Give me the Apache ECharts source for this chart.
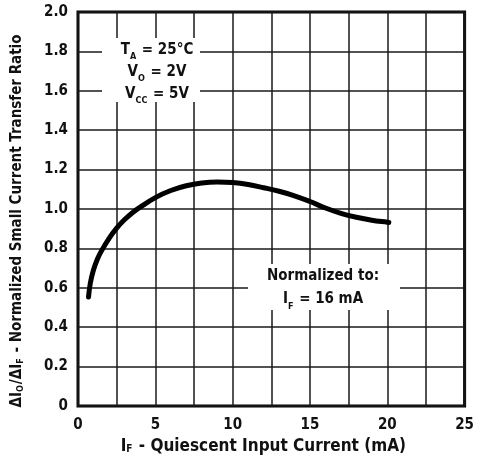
<!DOCTYPE html>
<html>
<head>
<meta charset="utf-8">
<script src="https://cdn.jsdelivr.net/npm/echarts@6/dist/echarts.min.js"></script>
<style>
    html, body { margin: 0; padding: 0; background: #fff; }
    #chart { width: 477px; height: 464px; }
</style>
</head>
<body>
<div id="chart"></div>
<script>
// curve
const currentMA = [0.68, 0.8, 1.0, 1.25, 1.5, 2.0, 2.5, 3.0, 3.5, 4.0, 5, 6, 7, 8, 9, 10, 11, 12, 13, 14, 15, 16, 17, 18, 19, 20, 20.1];
const ratio = [0.553, 0.625, 0.69, 0.745, 0.785, 0.85, 0.903, 0.945, 0.98, 1.008, 1.058, 1.094, 1.118, 1.132, 1.137, 1.134, 1.124, 1.108, 1.09, 1.067, 1.038, 1.005, 0.978, 0.958, 0.943, 0.933, 0.932];
const xTicks = [0, 5, 10, 15, 20, 25];
const yTicks = [0, 0.2, 0.4, 0.6, 0.8, 1.0, 1.2, 1.4, 1.6, 1.8, 2.0];

const FONT = "'Liberation Sans Narrow', 'DejaVu Sans Condensed', sans-serif";
const gridLine = { color: '#1a1a1a', width: 1.5 };

let mychart = echarts.init(document.getElementById('chart'));

let option = {
    animation: false,
    grid: {
        left: 78, right: 7, top: 12, bottom: 58,
        show: true,
        borderColor: '#000',
        borderWidth: 3
    },
    xAxis: {
        type: 'value',
        min: xTicks[0],
        max: xTicks[xTicks.length - 1],
        interval: 5,
        axisLine: { show: false },
        axisTick: { show: false },
        splitLine: { show: true, lineStyle: gridLine },
        minorTick: { show: false, splitNumber: 2 },
        minorSplitLine: { show: true, lineStyle: gridLine },
        axisLabel: {
            margin: 12,
            fontFamily: FONT, fontWeight: 'bold', fontSize: 15, color: '#111'
        },
        name: '{b|I}{s|F}{b| - Quiescent Input Current (mA)}',
        nameLocation: 'middle',
        nameGap: 30,
        nameTextStyle: {
            padding: [0, 16, 0, 0],
            rich: {
                b: { fontFamily: FONT, fontWeight: 'bold', fontSize: 17, color: '#111' },
                s: { fontFamily: FONT, fontWeight: 'bold', fontSize: 10, color: '#111', verticalAlign: 'bottom', padding: [6, 1, 0, 0] }
            }
        }
    },
    yAxis: {
        type: 'value',
        min: yTicks[0],
        max: yTicks[yTicks.length - 1],
        interval: 0.2,
        axisLine: { show: false },
        axisTick: { show: false },
        splitLine: { show: true, lineStyle: gridLine },
        axisLabel: {
            margin: 10,
            fontFamily: FONT, fontWeight: 'bold', fontSize: 15, color: '#111',
            formatter: v => v === 0 ? '0' : v.toFixed(1)
        },
        name: '{b|ΔI}{s|O}{b|/ΔI}{s|F}{b| - Normalized Small Current Transfer Ratio}',
        nameLocation: 'middle',
        nameGap: 53,
        nameTextStyle: {
            padding: [0, 24, 0, 0],
            rich: {
                b: { fontFamily: FONT, fontWeight: 'bold', fontSize: 15, color: '#111' },
                s: { fontFamily: FONT, fontWeight: 'bold', fontSize: 9, color: '#111', verticalAlign: 'bottom', padding: [6, 1, 0, 0] }
            }
        }
    },
    series: [
        {
            type: 'line',
            data: currentMA.map((x, i) => [x, ratio[i]]),
            smooth: 0.4,
            showSymbol: false,
            lineStyle: { color: '#000', width: 5, cap: 'round' },
            z: 5
        }
    ],
    graphic: [
        // condition box, top left
        { type: 'rect', shape: { x: 102, y: 38, width: 98, height: 64 }, style: { fill: '#fff' }, z: 10 },
        {
            type: 'text', x: 157, y: 72, z: 11,
            style: {
                text: '{b|T}{s|A}{b| = 25°C}\n{b|V}{s|O}{b| = 2V}\n{b|V}{s|CC}{b| = 5V}',
                align: 'center', verticalAlign: 'middle',
                rich: {
                    b: { fontFamily: FONT, fontWeight: 'bold', fontSize: 15, fill: '#111', lineHeight: 22 },
                    s: { fontFamily: FONT, fontWeight: 'bold', fontSize: 9, fill: '#111', lineHeight: 22, verticalAlign: 'bottom', padding: [6, 1, 0, 0] }
                }
            }
        },
        // normalization box, lower right
        { type: 'rect', shape: { x: 248, y: 264, width: 152, height: 46 }, style: { fill: '#fff' }, z: 10 },
        {
            type: 'text', x: 323, y: 288, z: 11,
            style: {
                text: '{b|Normalized to:}\n{b|I}{s|F}{b| = 16 mA}',
                align: 'center', verticalAlign: 'middle',
                rich: {
                    b: { fontFamily: FONT, fontWeight: 'bold', fontSize: 15, fill: '#111', lineHeight: 23 },
                    s: { fontFamily: FONT, fontWeight: 'bold', fontSize: 9, fill: '#111', lineHeight: 23, verticalAlign: 'bottom', padding: [6, 1, 0, 0] }
                }
            }
        }
    ]
};
mychart.setOption(option);
</script>
</body>
</html>
